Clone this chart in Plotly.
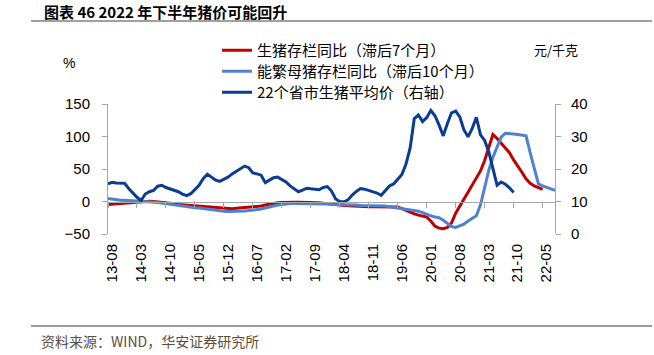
import plotly.graph_objects as go

# ---- data ----
months = [f"{2013 + (7 + i) // 12}-{(7 + i) % 12 + 1:02d}" for i in range(109)]  # 2013-08 .. 2022-08

tick_labels = ["13-08", "14-03", "14-10", "15-05", "15-12", "16-07", "17-02", "17-09",
               "18-04", "18-11", "19-06", "20-01", "20-08", "21-03", "21-10", "22-05"]

# 生猪存栏同比（滞后7个月）, %
hog_stock_yoy_lag7 = [
    -4.5, -4, -3.5, -3, -2, -1.5, -0.5, 0, 0.3, 0.5,
    0.5, 0, -0.5, -1, -2, -2.5, -3.5, -4.5, -5, -5.5,
    -6.5, -7, -7.5, -8.5, -9, -9.5, -10, -10.5, -11, -11,
    -11, -10.5, -10, -9.5, -9, -8.5, -8, -7, -5.5, -4,
    -3, -2, -1.5, -1, -1, -1, -1, -1, -1.5, -1.5,
    -2, -2, -2.5, -3.5, -4, -4.5, -5.5, -6, -6.5, -7,
    -7.5, -8, -8, -8, -8, -8, -8.5, -8.5, -8.5, -8,
    -8.5, -11, -14, -16, -19, -21, -22, -24, -30, -38,
    -41, -42, -40, -33, -18, -7, 4, 15, 25, 35,
    47, 63, 82, 103, 97, 90, 83, 75, 64, 55,
    45, 35, 28, 24, 21, 18.5]

# 能繁母猪存栏同比（滞后10个月）, %
sow_stock_yoy_lag10 = [
    4.5, 3.5, 3, 2, 1.8, 1.5, 1, 0.5, 0, -0.5,
    -0.5, -1, -1.5, -2.5, -3.5, -4.5, -5.5, -6.5, -7, -8,
    -8.5, -9.5, -10, -11, -12, -13, -13.5, -14.5, -15, -15.5,
    -15.5, -15, -15, -14.5, -14, -13.5, -12.5, -11.5, -10, -8,
    -7, -5.5, -4.5, -3.5, -3, -3, -3, -3, -3, -3,
    -3, -3, -3.5, -4, -4.5, -4.5, -5, -5, -5.5, -5.5,
    -5.5, -6, -6, -6, -6.5, -6.5, -7, -7, -8, -9,
    -9.7, -10, -11, -12, -13.5, -15, -17, -20, -22, -24,
    -25, -29, -34, -38.5, -40, -38, -35, -30, -26, -22,
    -5, 20, 48, 68, 85, 99, 105, 105, 104, 103,
    102, 101, 75, 50, 27, 24, 22, 19.5, 17]

# 22个省市生猪平均价（右轴）, 元/千克
hog_price_22 = [
    15.4, 15.9, 15.7, 15.6, 15.6, 14.0, 12.5, 11.3, 10.3, 12.3,
    13.0, 13.4, 14.7, 15.0, 14.3, 13.9, 13.5, 13.0, 12.3, 11.8,
    12.4, 13.8, 15.0, 17.0, 18.4, 17.5, 16.6, 16.2, 16.8, 17.5,
    18.5, 19.3, 20.2, 20.9, 20.4, 18.8, 18.5, 18.1, 15.8, 16.5,
    17.3, 17.5, 16.8, 16.0, 14.8, 13.8, 13.0, 13.5, 14.1, 13.9,
    13.7, 13.6, 14.3, 14.6, 13.2, 10.8, 10.0, 9.9, 10.5, 12.0,
    13.1, 14.0, 13.8, 13.4, 13.1, 12.6, 11.9, 13.5, 14.8, 15.4,
    16.7, 18.3, 21.5, 26.5, 35.5, 36.6, 34.6, 35.8, 38.0, 36.4,
    33.5, 30.2, 34.0, 37.3, 37.8, 36.0, 32.0, 29.9, 32.5, 35.9,
    30.5, 28.8, 25.3, 20.5, 15.0, 16.0, 15.3, 14.2, 12.8]

names = ["生猪存栏同比（滞后7个月）", "能繁母猪存栏同比（滞后10个月）", "22个省市生猪平均价（右轴）"]
colors = ["#C00000", "#4F81D0", "#0A3D91"]


def pad(vals):
    return list(vals) + [None] * (len(months) - len(vals))


# ---- geometry (pixels in the 654x355 page) ----
W, H = 654, 355
L, R, T, B = 108, 555, 104, 234


def px(x):
    return (x - L) / (R - L)


def py(y):
    return (B - y) / (B - T)


AX = "#A6A6A6"
FONT = "Liberation Sans, Arial, Noto Sans CJK SC, sans-serif"
CJK = "Noto Sans CJK SC, Liberation Sans, sans-serif"

fig = go.Figure()
fig.add_trace(go.Scatter(x=months, y=pad(hog_stock_yoy_lag7), name=names[0], mode="lines",
                         legend="legend", line=dict(color=colors[0], width=3),
                         xaxis="x", yaxis="y"))
fig.add_trace(go.Scatter(x=months, y=pad(sow_stock_yoy_lag10), name=names[1], mode="lines",
                         legend="legend2", line=dict(color=colors[1], width=3),
                         xaxis="x", yaxis="y"))
fig.add_trace(go.Scatter(x=months, y=pad(hog_price_22), name=names[2], mode="lines",
                         legend="legend3", line=dict(color=colors[2], width=3),
                         xaxis="x2", yaxis="y2"))


def legend_at(row_y):
    return dict(x=px(217), y=py(row_y), xanchor="left", yanchor="middle",
                bgcolor="rgba(0,0,0,0)", font=dict(family=CJK, size=15, color="#000000"),
                itemwidth=30)


fig.update_layout(
    width=W, height=H,
    margin=dict(l=L, r=W - R, t=T, b=H - B),
    paper_bgcolor="white", plot_bgcolor="white",
    font=dict(family=FONT, size=15, color="#000000"),
    showlegend=True,
    legend=legend_at(50.5),
    legend2=legend_at(71.5),
    legend3=legend_at(92.5),
    xaxis=dict(type="category", categoryorder="array", categoryarray=months,
               range=[0, len(months) - 1], tickmode="array",
               tickvals=months[::7], ticktext=tick_labels, tickangle=-90,
               showline=False, ticks="", showgrid=False, zeroline=False,
               ticklabelshift=4, ticklabelstandoff=6,
               tickfont=dict(family=FONT, size=15, color="#000000")),
    xaxis2=dict(type="category", categoryorder="array", categoryarray=months,
                range=[0, len(months) - 1], overlaying="x", anchor="free",
                position=py(202), side="bottom",
                tickmode="array", tickvals=months[::7], showticklabels=False,
                showline=True, linecolor=AX, linewidth=1, ticks="outside",
                ticklen=5, tickcolor=AX, showgrid=False, zeroline=False),
    yaxis=dict(range=[-50, 150], dtick=50, showline=True, linecolor=AX, linewidth=1,
               ticks="outside", ticklen=5, tickcolor=AX, showgrid=False, zeroline=False,
               ticklabelstandoff=9, tickfont=dict(family=FONT, size=15, color="#000000")),
    yaxis2=dict(range=[0, 40], dtick=10, overlaying="y", side="right", anchor="x",
                showline=True, linecolor=AX, linewidth=1, ticks="outside", ticklen=5,
                tickcolor=AX, showgrid=False, zeroline=False, ticklabelstandoff=7,
                tickfont=dict(family=FONT, size=15, color="#000000")),
)

annotations = [
    dict(text="<b>图表 46 2022 年下半年猪价可能回升</b>", x=px(42), y=py(11.5), xanchor="left",
         yanchor="middle", font=dict(family=CJK, size=15, color="#000000")),
    dict(text="%", x=px(61), y=py(63), xanchor="left", yanchor="middle",
         font=dict(family=FONT, size=14, color="#000000")),
    dict(text="元/千克", x=px(532), y=py(50), xanchor="left", yanchor="middle",
         font=dict(family=CJK, size=13, color="#000000")),
    dict(text="资料来源：WIND，华安证券研究所", x=px(39), y=py(341), xanchor="left",
         yanchor="middle", font=dict(family=CJK, size=14, color="#5A4E3C")),
]
for a in annotations:
    a.update(xref="paper", yref="paper", showarrow=False)
fig.update_layout(annotations=annotations)

fig.add_shape(type="line", xref="paper", yref="paper", x0=px(31), x1=px(652),
              y0=py(21), y1=py(21), line=dict(color="#A0A0A0", width=2))
fig.add_shape(type="line", xref="paper", yref="paper", x0=px(31), x1=px(652),
              y0=py(326), y1=py(326), line=dict(color="#333333", width=1))

fig.write_html("out.html", config={"displayModeBar": False},
               post_script="document.body.style.margin='0';")
